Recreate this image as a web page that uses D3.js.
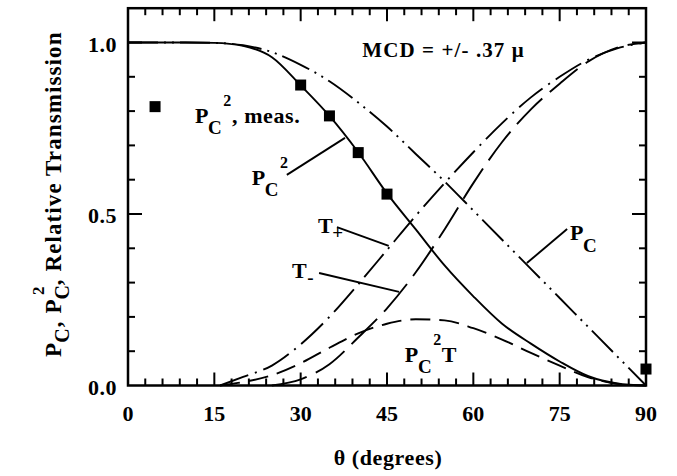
<!DOCTYPE html>
<html><head><meta charset="utf-8">
<script src="https://cdn.jsdelivr.net/npm/d3@7/dist/d3.min.js"></script>
<style>
body{margin:0;background:#fff}
svg text{font-family:"Liberation Serif","Times New Roman",serif;font-weight:bold;fill:#000}
</style>
</head><body>
<svg id="c" width="677" height="476"></svg>
<script>
// ---- data ----
const thetaFull = [0,5,10,15,20,25,30,35,40,45,50,55,60,65,70,75,80,85,90];
const pc  = [1,1,1,0.999,0.992,0.972,0.935,0.887,0.825,0.755,0.675,0.595,0.51,0.425,0.34,0.255,0.17,0.085,0];
const pc2 = [1,1,1,0.999,0.99,0.957,0.875,0.786,0.68,0.56,0.455,0.35,0.26,0.18,0.122,0.07,0.027,0.006,0];
const thetaTplus = [16,20,25,30,35,40,45,50,55,60,65,70,75,80,85,90];
const tPlus = [0,0.025,0.058,0.12,0.2,0.295,0.395,0.495,0.59,0.68,0.765,0.84,0.9,0.95,0.983,1.0];
const thetaTminus = [25,30,35,40,45,50,55,60,65,70,75,80,85,90];
const tMinus = [0,0.018,0.062,0.14,0.225,0.33,0.455,0.59,0.71,0.805,0.88,0.945,0.985,1.0];
const thetaPc2T = [16,20,25,30,35,40,45,50,55,60,65,70,75,80,85,90];
const pc2T = [0,0.01,0.03,0.065,0.11,0.152,0.18,0.193,0.19,0.167,0.134,0.095,0.058,0.024,0.005,0];
const measTheta = [4.7,30,35,40,45,90];
const measPc2 = [0.813,0.876,0.786,0.679,0.558,0.048];
const xTicks = [0,15,30,45,60,75,90];
const xTickLabels = ["0","15","30","45","60","75","90"];
const yTicks = [0,0.5,1.0];
const yTickLabels = ["0.0","0.5","1.0"];
const xMinorStep = 3;
const yMinorTicks = [0.1,0.2,0.3,0.4,0.6,0.7,0.8,0.9];

// ---- scales ----
const x = d3.scaleLinear().domain([0,90]).range([128,646]);
const y = d3.scaleLinear().domain([0,1.1]).range([385.5,8.2]);
const svg = d3.select("#c");

// ---- curves ----
const line = d3.line().x(d=>x(d[0])).y(d=>y(d[1])).curve(d3.curveMonotoneX);
const zipS = (a,b)=>a.map((t,i)=>[t,b[i]]);
const series = [
  {d: zipS(thetaFull,pc),  dash:"30,6,2,6,2,6"},
  {d: zipS(thetaFull,pc2), dash:null},
  {d: zipS(thetaTplus,tPlus), dash:"30,7,2,7"},
  {d: zipS(thetaTminus,tMinus), dash:"36,10"},
  {d: zipS(thetaPc2T,pc2T), dash:"20,9"}
];
series.forEach(s=>{
  svg.append("path").attr("d",line(s.d)).style("fill","none").attr("stroke","#000")
    .attr("stroke-width",1.9).attr("stroke-dasharray",s.dash);
});

// frame
svg.append("rect").attr("x",x(0)).attr("y",y(1.1)).attr("width",x(90)-x(0)).attr("height",y(0)-y(1.1))
  .style("fill","none").attr("stroke","#000").attr("stroke-width",2.5);

// ---- ticks (inward on all four sides) ----
const xAll = d3.range(0,91,xMinorStep);
xAll.forEach(d=>{
  const len = xTicks.includes(d) ? 13 : 7;
  svg.append("line").attr("x1",x(d)).attr("x2",x(d)).attr("y1",y(0)).attr("y2",y(0)-len)
    .attr("stroke","#000").attr("stroke-width",2);
  svg.append("line").attr("x1",x(d)).attr("x2",x(d)).attr("y1",y(1.1)).attr("y2",y(1.1)+len)
    .attr("stroke","#000").attr("stroke-width",2);
});
yMinorTicks.concat([0.5,1.0]).forEach(d=>{
  const len = (d===0.5 || d===1.0) ? 14 : 7;
  svg.append("line").attr("x1",x(0)).attr("x2",x(0)+len).attr("y1",y(d)).attr("y2",y(d))
    .attr("stroke","#000").attr("stroke-width",2);
  svg.append("line").attr("x1",x(90)).attr("x2",x(90)-len).attr("y1",y(d)).attr("y2",y(d))
    .attr("stroke","#000").attr("stroke-width",2);
});

// tick labels
svg.selectAll(".xl").data(xTicks).enter().append("text")
  .attr("x",d=>x(d)).attr("y",y(0)+35).attr("text-anchor","middle").attr("font-size",22)
  .text((d,i)=>xTickLabels[i]);
svg.selectAll(".yl").data(yTicks).enter().append("text")
  .attr("x",x(0)-11).attr("y",d=>y(d)+9).attr("text-anchor","end").attr("font-size",22)
  .attr("letter-spacing",0.5)
  .text((d,i)=>yTickLabels[i]);

// measured points
const sq = 11;
svg.selectAll(".m").data(measTheta).enter().append("rect")
  .attr("x",d=>x(d)-sq/2).attr("y",(d,i)=>y(measPc2[i])-sq/2).attr("width",sq).attr("height",sq).attr("fill","#000");

// ---- annotations (data coordinates) ----
const leaders = [
  [[27.6,0.614],[37.7,0.722]],
  [[36.3,0.462],[45.3,0.407]],
  [[33.2,0.328],[47.1,0.273]],
  [[76.3,0.456],[69.3,0.357]]
];
leaders.forEach(l=> svg.append("line").attr("x1",x(l[0][0])).attr("y1",y(l[0][1]))
  .attr("x2",x(l[1][0])).attr("y2",y(l[1][1])).attr("stroke","#000").attr("stroke-width",1.9));

function label(xd, yd, parts){
  const txt = svg.append("text").attr("x",x(xd)).attr("y",y(yd)).attr("font-size",22).attr("letter-spacing",0.6);
  parts.forEach(p=>{
    const ts = txt.append("tspan").text(p.t);
    if(p.fs) ts.attr("font-size",p.fs);
    if(p.dy!==undefined) ts.attr("dy",p.dy);
    if(p.dx!==undefined) ts.attr("dx",p.dx);
  });
  return txt;
}
label(11.64, 0.765, [{t:"P"},{t:"C",fs:19,dy:11,dx:-1},{t:"2",fs:16,dy:-28,dx:1},{t:", meas.",dy:17}]);
label(21.5, 0.585, [{t:"P"},{t:"C",fs:19,dy:11,dx:-1},{t:"2",fs:16,dy:-28,dx:1}]);
label(33.0, 0.445, [{t:"T"},{t:"+",fs:19,dy:6,dx:-1}]);
label(28.5, 0.313, [{t:"T"},{t:"-",fs:19,dy:6}]);
label(76.8, 0.424, [{t:"P"},{t:"C",fs:19,dy:12,dx:-1}]);
label(48.1, 0.068, [{t:"P"},{t:"C",fs:19,dy:11,dx:-1},{t:"2",fs:16,dy:-28,dx:1},{t:"T",dy:17}]);

svg.append("text").attr("x",x(40.7)).attr("y",y(0.958)).attr("font-size",21).attr("letter-spacing",1.1)
  .text("MCD = +/- .37 \u03bc");

// axis titles
svg.append("text").attr("x",388).attr("y",465).attr("text-anchor","middle").attr("font-size",22)
  .attr("letter-spacing",0.6).text("\u03b8 (degrees)");
const yt = svg.append("text").attr("transform","translate(61,357) rotate(-90)").attr("font-size",23).attr("letter-spacing",1.1);
yt.append("tspan").text("P");
yt.append("tspan").attr("font-size",20).attr("dy",8).attr("dx",-1).text("C");
yt.append("tspan").attr("dy",-8).text(", P");
yt.append("tspan").attr("font-size",20).attr("dy",8).attr("dx",-1).text("C");
yt.append("tspan").attr("font-size",17).attr("dy",-25).attr("dx",-11).text("2");
yt.append("tspan").attr("dy",17).text(", Relative Transmission");
</script>
</body></html>
